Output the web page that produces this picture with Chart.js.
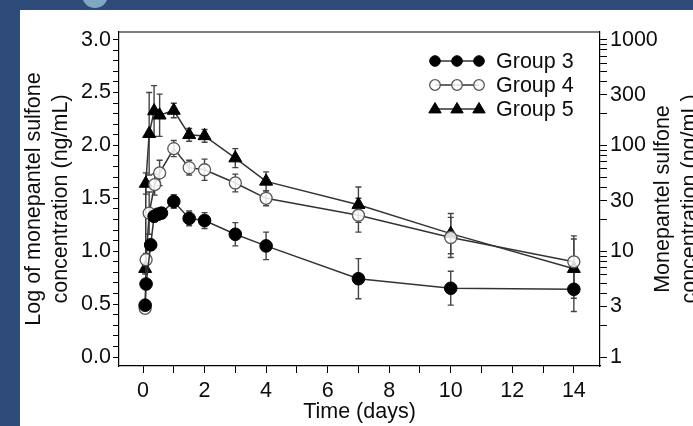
<!DOCTYPE html>
<html>
<head>
<meta charset="utf-8">
<script src="https://cdn.jsdelivr.net/npm/chart.js@4.4.0/dist/chart.umd.min.js"></script>
<style>
  html, body { margin: 0; padding: 0; width: 693px; height: 426px; overflow: hidden; background: #2e4b7a; }
  #panel { position: absolute; left: 20px; top: 10px; width: 720px; height: 430px; background: #fff; }
  #dot { position: absolute; left: 82px; top: -18px; width: 26px; height: 26px; border-radius: 50%; background: #80a8c2; }
  #chart { position: absolute; left: 0; top: 0; }
</style>
</head>
<body>
<div id="panel"></div>
<div id="dot"></div>
<canvas id="chart" width="720" height="426"></canvas>
<script>
// ---- data (time in days, log10 concentration, SD) ----
const days3 = [0.07, 0.1, 0.25, 0.36, 0.48, 0.6, 1, 1.5, 2, 3, 4, 7, 10, 14];
const log3  = [0.49, 0.69, 1.06, 1.33, 1.35, 1.36, 1.47, 1.31, 1.29, 1.16, 1.05, 0.74, 0.65, 0.64];
const sd3   = [0.03, 0.04, 0.05, 0.05, 0.05, 0.05, 0.065, 0.07, 0.075, 0.11, 0.13, 0.19, 0.16, 0.21];

const days4 = [0.07, 0.1, 0.2, 0.38, 0.54, 1, 1.5, 2, 3, 4, 7, 10, 14];
const log4  = [0.46, 0.92, 1.36, 1.63, 1.74, 1.97, 1.79, 1.77, 1.645, 1.5, 1.34, 1.13, 0.9];
const sd4   = [0.03, 0.06, 0.2, 0.1, 0.12, 0.076, 0.07, 0.1, 0.084, 0.07, 0.16, 0.19, 0.245];

const days5 = [0.07, 0.09, 0.2, 0.36, 0.54, 1, 1.5, 2, 3, 4, 7, 10, 14];
const log5  = [0.835, 1.64, 2.11, 2.325, 2.285, 2.33, 2.1, 2.09, 1.88, 1.66, 1.44, 1.166, 0.835];
const sd5   = [0.05, 0.1, 0.39, 0.24, 0.2, 0.068, 0.06, 0.06, 0.09, 0.09, 0.167, 0.19, 0.28];

const groupNames = ['Group 3', 'Group 4', 'Group 5'];

// axis ticks
const xTicks = [0, 1, 2, 3, 4, 5, 6, 7, 8, 9, 10, 11, 12, 13, 14];
const xLabelEvery = 2;
const yMajor = [0, 0.5, 1, 1.5, 2, 2.5, 3];
const concLabels = [1, 3, 10, 30, 100, 300, 1000];

const FONT = "'Liberation Sans', Arial, Helvetica, sans-serif";
const INK = '#0d0d0d';

function pts(d, v) { return d.map((t, i) => ({ x: t, y: v[i] })); }

// minor ticks on the left axis every 0.1
const yTicks = [];
for (let i = 0; i <= 30; i++) yTicks.push(i / 10);

// right axis: log ticks 1..1000 (every integer multiple per decade)
const rightTicks = [];
for (let dec = 1; dec < 1000; dec *= 10) {
    for (let m = 1; m < 10; m++) rightTicks.push(Math.log10(m * dec));
}
rightTicks.push(3);

// ---- plugins ----
const errorBars = {
    id: 'errorBars',
    beforeDatasetsDraw(chart) {
        const { ctx, scales: { x, y } } = chart;
        ctx.save();
        ctx.strokeStyle = '#444';
        ctx.lineWidth = 1.4;
        chart.data.datasets.forEach(ds => {
            ds.data.forEach((p, i) => {
                const px = x.getPixelForValue(p.x);
                const top = y.getPixelForValue(p.y + ds.errors[i]);
                const bot = y.getPixelForValue(p.y - ds.errors[i]);
                ctx.beginPath();
                ctx.moveTo(px, top); ctx.lineTo(px, bot);
                ctx.moveTo(px - 3, top); ctx.lineTo(px + 3, top);
                ctx.moveTo(px - 3, bot); ctx.lineTo(px + 3, bot);
                ctx.stroke();
            });
        });
        ctx.restore();
    }
};

function marker(ctx, ds, x, y, r) {
    ctx.beginPath();
    if (ds.pointStyle === 'triangle') {
        ctx.moveTo(x, y - r);
        ctx.lineTo(x + r * 0.95, y + r * 0.6);
        ctx.lineTo(x - r * 0.95, y + r * 0.6);
        ctx.closePath();
    } else {
        ctx.arc(x, y, r, 0, Math.PI * 2);
    }
    ctx.fillStyle = ds.pointBackgroundColor;
    ctx.fill();
    ctx.strokeStyle = ds.pointBorderColor;
    ctx.lineWidth = ds.pointBorderWidth;
    ctx.stroke();
}

const frameAndLegend = {
    id: 'frameAndLegend',
    afterDraw(chart) {
        const { ctx, chartArea: a } = chart;
        ctx.save();
        // top frame line
        ctx.strokeStyle = '#000';
        ctx.lineWidth = 1.2;
        ctx.beginPath();
        ctx.moveTo(a.left, a.top);
        ctx.lineTo(a.right, a.top);
        ctx.stroke();

        // legend: three markers on a line + label
        chart.data.datasets.forEach((ds, i) => {
            const ly = a.top + 29 + i * 24;
            const x0 = a.right - 165;
            ctx.strokeStyle = '#333';
            ctx.lineWidth = 1.5;
            ctx.beginPath();
            ctx.moveTo(x0, ly);
            ctx.lineTo(x0 + 44, ly);
            ctx.stroke();
            const r = ds.pointStyle === 'triangle' ? 6.5 : 5.3;
            for (let k = 0; k < 3; k++) marker(ctx, ds, x0 + k * 22, ly, r);
            ctx.fillStyle = INK;
            ctx.font = '21.5px ' + FONT;
            ctx.textBaseline = 'middle';
            ctx.textAlign = 'left';
            ctx.fillText(ds.label, x0 + 61, ly + 1);
        });

        // right axis title, reading bottom-to-top
        ctx.translate(a.right + 63, (a.top + a.bottom) / 2);
        ctx.rotate(-Math.PI / 2);
        ctx.fillStyle = INK;
        ctx.font = '21.5px ' + FONT;
        ctx.textAlign = 'center';
        ctx.textBaseline = 'middle';
        ctx.fillText('Monepantel sulfone', 0, 0);
        ctx.fillText('concentration (ng/mL)', 0, 27);
        ctx.restore();
    }
};

const tickGrid = {
    drawOnChartArea: false,
    drawTicks: true,
    tickLength: 7,
    tickColor: '#000',
    tickWidth: 1
};

// ---- chart ----
const ctx = document.getElementById('chart').getContext('2d');

const chart = new Chart(ctx, {
    type: 'line',
    data: {
        datasets: [
            {
                label: groupNames[0],
                data: pts(days3, log3),
                errors: sd3,
                borderColor: '#333',
                borderWidth: 1.5,
                pointStyle: 'circle',
                pointRadius: 6.3,
                pointBackgroundColor: '#000',
                pointBorderColor: '#000',
                pointBorderWidth: 1
            },
            {
                label: groupNames[1],
                data: pts(days4, log4),
                errors: sd4,
                borderColor: '#333',
                borderWidth: 1.5,
                pointStyle: 'circle',
                pointRadius: 6,
                pointBackgroundColor: 'rgba(255,255,255,0.85)',
                pointBorderColor: '#555',
                pointBorderWidth: 1.3
            },
            {
                label: groupNames[2],
                data: pts(days5, log5),
                errors: sd5,
                borderColor: '#333',
                borderWidth: 1.5,
                pointStyle: 'triangle',
                pointRadius: 7.5,
                pointBackgroundColor: '#000',
                pointBorderColor: '#000',
                pointBorderWidth: 1
            }
        ]
    },
    options: {
        responsive: false,
        animation: false,
        layout: { padding: { top: 32, left: 0, right: 0, bottom: 0 } },
        plugins: {
            legend: { display: false },
            tooltip: { enabled: false }
        },
        scales: {
            x: {
                type: 'linear',
                min: -0.78,
                max: 14.85,
                afterFit: s => { s.height = 60; },
                afterBuildTicks: s => { s.ticks = xTicks.map(v => ({ value: v })); },
                grid: tickGrid,
                border: { display: true, color: '#000', width: 1.2 },
                ticks: {
                    autoSkip: false,
                    maxRotation: 0,
                    padding: 5,
                    color: INK,
                    font: { family: FONT, size: 21.5 },
                    callback: v => (v % xLabelEvery === 0 ? String(v) : '')
                },
                title: {
                    display: true,
                    text: 'Time (days)',
                    color: INK,
                    font: { family: FONT, size: 21.5 },
                    padding: { top: 0, bottom: 1 }
                }
            },
            y: {
                type: 'linear',
                position: 'left',
                min: -0.085,
                max: 3.072,
                afterFit: s => { s.width = 119; },
                afterBuildTicks: s => { s.ticks = yTicks.map(v => ({ value: v })); },
                grid: Object.assign({}, tickGrid, { tickLength: 6 }),
                border: { display: true, color: '#000', width: 1.2 },
                ticks: {
                    autoSkip: false,
                    padding: 2,
                    color: INK,
                    font: { family: FONT, size: 21.5 },
                    callback: v => (yMajor.some(m => Math.abs(m - v) < 1e-6) ? v.toFixed(1) : '')
                },
                title: {
                    display: true,
                    text: ['Log of monepantel sulfone', 'concentration (ng/mL)'],
                    color: INK,
                    font: { family: FONT, size: 21.5, lineHeight: 1.24 },
                    padding: { top: 21, bottom: 0 }
                }
            },
            y2: {
                type: 'linear',
                position: 'right',
                min: -0.085,
                max: 3.072,
                afterFit: s => { s.width = 120; },
                afterBuildTicks: s => { s.ticks = rightTicks.map(v => ({ value: v })); },
                grid: Object.assign({}, tickGrid, { tickLength: 7 }),
                border: { display: true, color: '#000', width: 1.2 },
                ticks: {
                    autoSkip: false,
                    padding: 3,
                    color: INK,
                    font: { family: FONT, size: 21.5 },
                    callback: v => {
                        const c = Math.round(Math.pow(10, v));
                        return concLabels.includes(c) && Math.abs(Math.log10(c) - v) < 1e-6 ? String(c) : '';
                    }
                }
            }
        }
    },
    plugins: [errorBars, frameAndLegend]
});
</script>
</body>
</html>
